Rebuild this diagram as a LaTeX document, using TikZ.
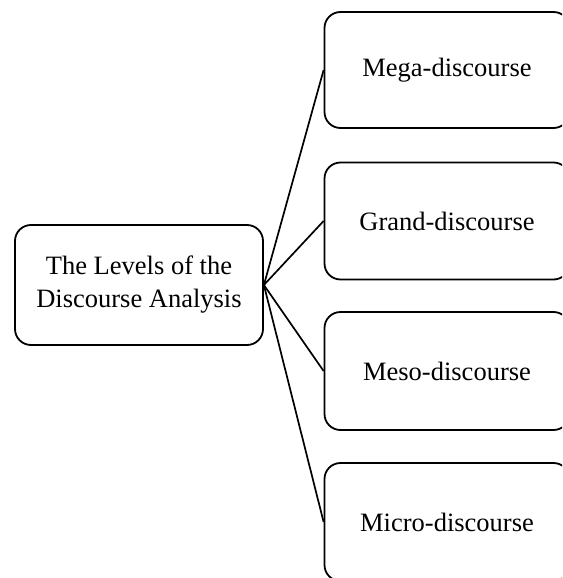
\documentclass[tikz,border=0pt]{standalone}
\usepackage{fontspec}
\setmainfont{Liberation Serif}
\begin{document}
\begin{tikzpicture}[x=1pt,y=-1pt,
  levelbox/.style={draw=black, line width=1.8pt, rounded corners=16pt,
    fill=white, align=center, inner sep=0pt,
    font=\fontsize{26.5}{33}\selectfont},
  link/.style={draw=black, line width=1.7pt}]
  \useasboundingbox (0,0) rectangle (562,578);
  \clip (0,0) rectangle (562,578);
  % root box
  \node[levelbox, minimum width=248pt, minimum height=120pt] (root) at (139,285)
    {The Levels of the\\Discourse Analysis};
  % the four levels
  \node[levelbox, minimum width=245pt, minimum height=116pt] (mega) at (447,70) {Mega-discourse};
  \node[levelbox, minimum width=245pt, minimum height=117pt] (grand) at (447,221) {Grand-discourse};
  \node[levelbox, minimum width=245pt, minimum height=118pt] (meso) at (447,371) {Meso-discourse};
  \node[levelbox, minimum width=245pt, minimum height=118pt] (micro) at (447,522) {Micro-discourse};
  % connectors
  \foreach \n in {mega,grand,meso,micro}
    \draw[link] (root.east) -- (\n.west);
\end{tikzpicture}
\end{document}
